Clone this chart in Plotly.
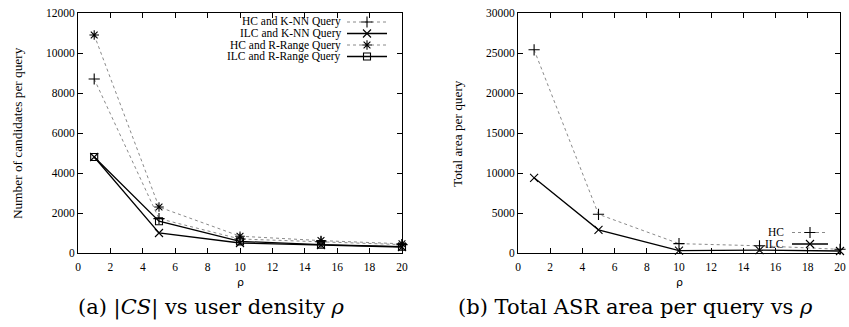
import plotly.graph_objects as go

# ---------------- data ----------------
rho = [1, 5, 10, 15, 20]
hc_knn = [8700, 1720, 700, 560, 420]
ilc_knn = [4800, 1000, 500, 400, 300]
hc_range = [10900, 2300, 840, 620, 460]
ilc_range = [4800, 1590, 580, 420, 320]

hc_area = [25400, 4840, 1170, 900, 460]
ilc_area = [9400, 2900, 300, 350, 250]

left_names = ["HC and K-NN Query", "ILC and K-NN Query", "HC and R-Range Query", "ILC and R-Range Query"]
right_names = ["HC", "ILC"]
x_ticks = list(range(0, 21, 2))
left_y_ticks = list(range(0, 12001, 2000))
right_y_ticks = list(range(0, 30001, 5000))

W, H = 849, 327
SERIF = "Liberation Serif"

def px_x(p):
    return p / W

def px_y(p):
    return 1 - p / H

L0, L1 = 78, 402
R0, R1 = 518, 840
T, B = 13, 253

GRAY = "#8a8a8a"
def mk(symbol, size=8):
    return dict(symbol=symbol, size=size, color="black", line=dict(color="black", width=1.1))

styles = {
    "hc_knn": dict(line=dict(color=GRAY, width=1, dash="dot"), marker=mk("cross-thin-open")),
    "ilc_knn": dict(line=dict(color="black", width=1.3), marker=mk("x-thin-open")),
    "hc_range": dict(line=dict(color=GRAY, width=1, dash="dot"), marker=mk("asterisk-open")),
    "ilc_range": dict(line=dict(color="black", width=1.3), marker=mk("square-open", 7)),
}

fig = go.Figure()
left_series = [("hc_knn", hc_knn), ("ilc_knn", ilc_knn), ("hc_range", hc_range), ("ilc_range", ilc_range)]
for key, ys in left_series:
    fig.add_trace(go.Scatter(x=rho, y=ys, mode="lines+markers", xaxis="x", yaxis="y",
                             showlegend=False, cliponaxis=False, **styles[key]))
right_series = [("hc_knn", hc_area), ("ilc_knn", ilc_area)]
for key, ys in right_series:
    fig.add_trace(go.Scatter(x=rho, y=ys, mode="lines+markers", xaxis="x2", yaxis="y2",
                             showlegend=False, cliponaxis=False, **styles[key]))

# ---- manual gnuplot-style legends on hidden overlay axes (0..1 in each plot) ----
def legend_entry(xa, ya, x0, x1, y, key, dom0, dom1):
    fx0 = (x0 - dom0) / (dom1 - dom0)
    fx1 = (x1 - dom0) / (dom1 - dom0)
    fy = (B - y) / (B - T)
    st = styles[key]
    fig.add_trace(go.Scatter(x=[fx0, fx1], y=[fy, fy], mode="lines", xaxis=xa, yaxis=ya,
                             showlegend=False, hoverinfo="skip", line=st["line"]))
    fig.add_trace(go.Scatter(x=[(fx0 + fx1) / 2], y=[fy], mode="markers", xaxis=xa, yaxis=ya,
                             showlegend=False, hoverinfo="skip", marker=st["marker"]))

left_rows = [22, 33.5, 45, 56.5]
for name, (key, _), yy in zip(left_names, left_series, left_rows):
    legend_entry("x3", "y3", 347, 387, yy, key, L0, L1)
    fig.add_annotation(x=px_x(343), y=px_y(yy), xref="paper", yref="paper", text=name,
                       showarrow=False, xanchor="right", yanchor="middle",
                       font=dict(family=SERIF, size=11.5, color="black"))

right_rows = [232.5, 244]
for name, (key, _), yy in zip(right_names, right_series, right_rows):
    legend_entry("x4", "y4", 792, 828, yy, key, R0, R1)
    fig.add_annotation(x=px_x(786), y=px_y(yy), xref="paper", yref="paper", text=name,
                       showarrow=False, xanchor="right", yanchor="middle",
                       font=dict(family=SERIF, size=11.5, color="black"))

axis_common = dict(showline=True, linecolor="black", linewidth=1, mirror="ticks",
                   ticks="inside", ticklen=5, tickcolor="black", tickwidth=1,
                   showgrid=False, zeroline=False, automargin=False, tickformat="d",
                   tickfont=dict(family=SERIF, size=11.5, color="black"))

fig.update_layout(
    width=W, height=H, margin=dict(l=0, r=0, t=0, b=0, autoexpand=False),
    plot_bgcolor="white", paper_bgcolor="white", showlegend=False,
    xaxis=dict(domain=[px_x(L0), px_x(L1)], range=[0, 20], tickvals=x_ticks, anchor="y",
               ticklabelstandoff=3, **axis_common),
    yaxis=dict(domain=[px_y(B), px_y(T)], range=[0, 12000], tickvals=left_y_ticks, anchor="x", **axis_common),
    xaxis2=dict(domain=[px_x(R0), px_x(R1)], range=[0, 20], tickvals=x_ticks, anchor="y2",
                ticklabelstandoff=3, **axis_common),
    yaxis2=dict(domain=[px_y(B), px_y(T)], range=[0, 30000], tickvals=right_y_ticks, anchor="x2", **axis_common),
    xaxis3=dict(domain=[px_x(L0), px_x(L1)], range=[0, 1], visible=False, anchor="y3", overlaying="x"),
    yaxis3=dict(domain=[px_y(B), px_y(T)], range=[0, 1], visible=False, anchor="x3", overlaying="y"),
    xaxis4=dict(domain=[px_x(R0), px_x(R1)], range=[0, 1], visible=False, anchor="y4", overlaying="x2"),
    yaxis4=dict(domain=[px_y(B), px_y(T)], range=[0, 1], visible=False, anchor="x4", overlaying="y2"),
)

# axis titles
fig.add_annotation(x=px_x(18), y=px_y((T + B) / 2), xref="paper", yref="paper",
                   text="Number of candidates per query", textangle=-90, showarrow=False,
                   xanchor="center", yanchor="middle",
                   font=dict(family=SERIF, size=13.3, color="black"))
fig.add_annotation(x=px_x(458), y=px_y((T + B) / 2), xref="paper", yref="paper",
                   text="Total area per query", textangle=-90, showarrow=False,
                   xanchor="center", yanchor="middle",
                   font=dict(family=SERIF, size=13.3, color="black"))
for cx in [(L0 + L1) / 2, (R0 + R1) / 2]:
    fig.add_annotation(x=px_x(cx), y=px_y(282), xref="paper", yref="paper", text="ρ",
                       showarrow=False, xanchor="center", yanchor="middle",
                       font=dict(family="DejaVu Sans", size=11, color="black"))

# captions
fig.add_annotation(x=px_x(211), y=px_y(307), xref="paper", yref="paper",
                   text="(a) |<i>CS</i>| vs user density <i>ρ</i>", showarrow=False,
                   xanchor="center", yanchor="middle",
                   font=dict(family="DejaVu Serif", size=21, color="black"))
fig.add_annotation(x=px_x(635), y=px_y(307), xref="paper", yref="paper",
                   text="(b) Total ASR area per query vs <i>ρ</i>", showarrow=False,
                   xanchor="center", yanchor="middle",
                   font=dict(family="DejaVu Serif", size=21, color="black"))

fig.write_html("out.html", config={"displayModeBar": False},
               post_script="document.body.style.margin='0px';")
